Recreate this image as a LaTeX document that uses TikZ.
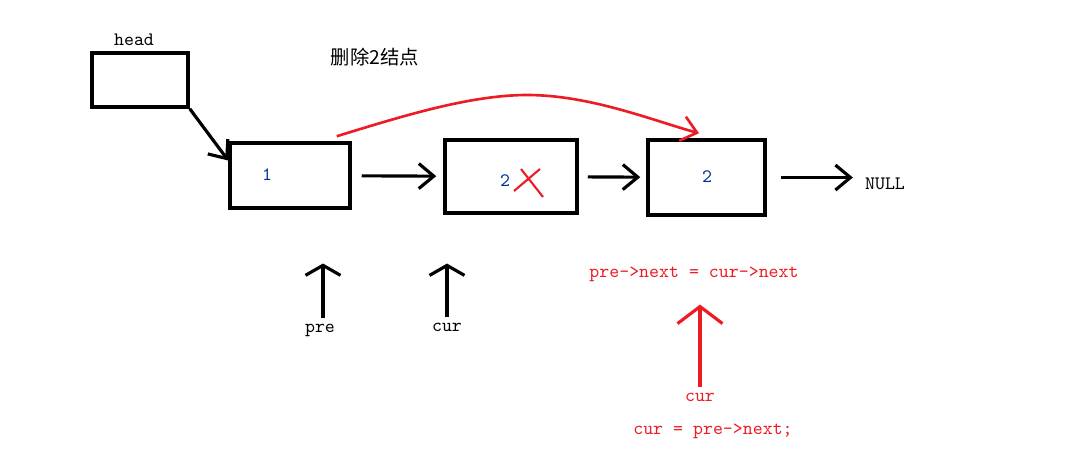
\documentclass[tikz,border=0pt]{standalone}
\usepackage{fontspec}
\newfontfamily\cjk{Noto Sans CJK SC}
\usetikzlibrary{arrows.meta,positioning,calc}
\definecolor{paintred}{RGB}{237,28,36}
\definecolor{valblue}{RGB}{0,51,153}
\tikzset{
    listnode/.style={draw,line width=2pt,inner sep=0pt},
    link/.style={->,>={Straight Barb[length=3mm,width=5mm]},line width=1.8pt},
    ptr/.style={->,>={Straight Barb[length=2mm,width=7mm]},line width=1.8pt},
    redlink/.style={->,>={Straight Barb[length=3mm,width=5mm]},line width=1.5pt,paintred},
    redptr/.style={->,>={Straight Barb[length=3.4mm,width=9mm]},line width=1.8pt,paintred},
    value/.style={text=valblue},
    code/.style={text=paintred},
}
\tikzstyle{every node}=[font=\ttfamily\fontsize{10.8}{13}\selectfont]

\begin{document}
\begin{tikzpicture}[x=0.02cm,y=-0.02cm]
    \useasboundingbox (0,0) rectangle (1067,460);
    % list nodes
    \node[listnode,minimum width=1.92cm,minimum height=1.08cm] (head) at (140,80) {};
    \node[listnode,minimum width=2.4cm,minimum height=1.3cm] (n1) at (290,175.5) {};
    \node[listnode,minimum width=2.64cm,minimum height=1.46cm] (n2) at (511,176.5) {};
    \node[listnode,minimum width=2.34cm,minimum height=1.5cm] (n3) at (706.5,177.5) {};
    \node (headlabel) at (134,40) {head};
    \node[font=\cjk\fontsize{11}{13}\selectfont] (title) at (375,57) {删除2结点};
    \node[value] (v1) at (267,175) {1};
    \node[value] (v2) at (505,181) {2};
    \node[value] (v3) at (707,177) {2};
    \node (null) at (885,184) {NULL};

    \draw[link] (head.south east) -- ([yshift=0.3cm]n1.west);
    \draw[link,shorten <=0.2cm,shorten >=0.14cm] (n1) -- (n2);
    \draw[link,shorten <=0.18cm,shorten >=0.12cm] (n2) -- (n3);
    \draw[link,shorten <=0.28cm,shorten >=0.12cm] (n3.east) -- (n3.east -| null.west);

    % new link, skipping n2
    \coordinate (top) at (527,95);
    \draw[redlink] ([xshift=-0.3cm,yshift=0.1cm]n1.north east) .. controls +(65,-20) and +(-57,0) .. (top)
        .. controls +(63,0) and +(-47,-13) .. ([xshift=-0.15cm,yshift=0.1cm]n3.north);
    \draw[paintred,line width=1.2pt] ($(v2)+(9,10)$) -- ($(v2)+(35,-12)$)
        ($(v2)+(16,-12)$) -- ($(v2)+(38,16)$);

    % pointers
    \node (pre) at (320,330) {pre};
    \node (cur) at (447,327) {cur};
    \draw[ptr] ([xshift=0.06cm]pre.north) -- ++(0,-54);
    \draw[ptr] (cur.north) -- ++(0,-53);

    \node[code] (assign) at (694,274) {pre->next = cur->next};
    \node[code] (cur2) at (700,397) {cur};
    \node[code] (step2) at (713,431) {cur = pre->next;};
    \draw[redptr] (cur2.north) -- ++(0,-82);
\end{tikzpicture}
\end{document}
